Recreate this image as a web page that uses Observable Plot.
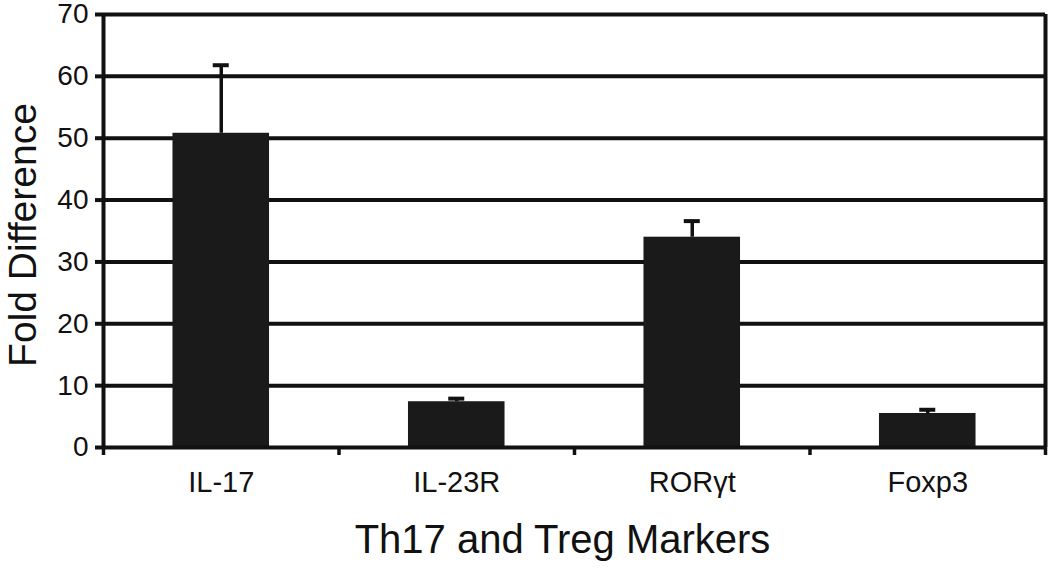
<!DOCTYPE html>
<html>
<head>
<meta charset="utf-8">
<script src="https://cdn.jsdelivr.net/npm/d3@7"></script>
<script src="https://cdn.jsdelivr.net/npm/@observablehq/plot@0.6"></script>
<style>
  html, body { margin: 0; padding: 0; background: white; }
</style>
</head>
<body>
<div id="chart"></div>
<script>
const categories = ["IL-17", "IL-23R", "RORγt", "Foxp3"];
const values = [50.8, 7.4, 34.0, 5.5];
const errors = [11.0, 0.5, 2.6, 0.6];
const yTicks = [0, 10, 20, 30, 40, 50, 60, 70];
const yLabel = "Fold Difference";
const xLabel = "Th17 and Treg Markers";

const data = categories.map((c, i) => ({cat: c, pos: i + 0.5, value: values[i], err: errors[i]}));
const barHalf = 0.205;
const capHalf = 0.034;

const chart = Plot.plot({
  width: 1050,
  height: 570,
  marginLeft: 103,
  marginRight: 5,
  marginTop: 14,
  marginBottom: 123,
  x: {domain: [0, categories.length], axis: null},
  y: {domain: [0, 70], axis: null},
  style: {fontFamily: "'Liberation Sans', Arial, Helvetica, sans-serif", background: "white", color: "#111", overflow: "visible"},
  marks: [
    Plot.ruleY(yTicks.filter(d => d > 0), {stroke: "#111", strokeWidth: 4}),
    Plot.rectY(data, {x1: d => d.pos - barHalf, x2: d => d.pos + barHalf, y: "value", fill: "#1a1a1a"}),
    Plot.ruleX(data, {x: "pos", y1: "value", y2: d => d.value + d.err, stroke: "#111", strokeWidth: 3.5}),
    Plot.ruleY(data, {x1: d => d.pos - capHalf, x2: d => d.pos + capHalf, y: d => d.value + d.err, stroke: "#111", strokeWidth: 4}),
    Plot.ruleY([0], {stroke: "#111", strokeWidth: 4}),
    Plot.ruleX([0, categories.length], {stroke: "#111", strokeWidth: 4}),
    Plot.axisY({ticks: yTicks, tickSize: 8, tickPadding: 7, fontSize: 28, strokeWidth: 4, label: null}),
    Plot.axisX({ticks: d3.range(categories.length + 1), tickSize: 8, tickFormat: () => "", strokeWidth: 3.5, label: null}),
    Plot.axisX({ticks: data.map(d => d.pos), tickSize: 0, tickPadding: 24, tickFormat: d => categories[Math.floor(d)], fontSize: 29, label: null}),
    Plot.text([yLabel], {frameAnchor: "left", textAnchor: "middle", lineAnchor: "middle", rotate: -90, dx: -80, dy: 4, fontSize: 39, fill: "#111"}),
    Plot.text([xLabel], {frameAnchor: "bottom", textAnchor: "middle", lineAnchor: "middle", dx: -12, dy: 93, fontSize: 40, fill: "#111"})
  ]
});
document.getElementById("chart").append(chart);
</script>
</body>
</html>
